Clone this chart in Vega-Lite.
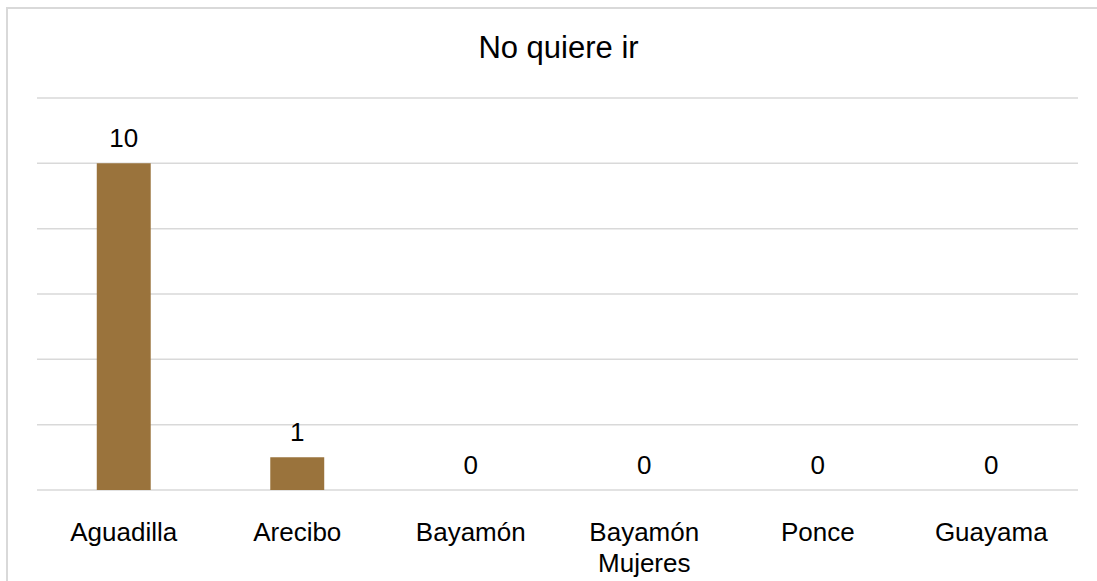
{
  "$schema": "https://vega.github.io/schema/vega-lite/v6.json",
  "width": 1095,
  "height": 580,
  "autosize": {"type": "none"},
  "padding": {"left": 7, "top": 8, "right": 0, "bottom": 0},
  "background": "white",
  "config": {
    "view": {"stroke": "#d9d9d9", "strokeWidth": 2},
    "font": "Liberation Sans"
  },
  "title": {
    "text": "No quiere ir",
    "fontSize": 31,
    "fontWeight": "normal",
    "color": "#000000",
    "font": "Liberation Sans",
    "offset": -57,
    "dx": 4
  },
  "datasets": {
    "bars": [
      {"sede": "Aguadilla", "valor": 10},
      {"sede": "Arecibo", "valor": 1},
      {"sede": "Bayamón", "valor": 0},
      {"sede": "Bayamón Mujeres", "valor": 0},
      {"sede": "Ponce", "valor": 0},
      {"sede": "Guayama", "valor": 0}
    ],
    "grid": [
      {"g": 0, "a": 0, "b": 1},
      {"g": 2, "a": 0, "b": 1},
      {"g": 4, "a": 0, "b": 1},
      {"g": 6, "a": 0, "b": 1},
      {"g": 8, "a": 0, "b": 1},
      {"g": 10, "a": 0, "b": 1},
      {"g": 12, "a": 0, "b": 1}
    ]
  },
  "layer": [
    {
      "data": {"name": "grid"},
      "mark": {"type": "rule", "color": "#d9d9d9", "strokeWidth": 1.5},
      "encoding": {
        "y": {"field": "g", "type": "quantitative", "scale": {"domain": [0, 12], "range": [482, 90]}, "axis": null},
        "x": {"field": "a", "type": "quantitative", "scale": {"domain": [0, 1], "range": [30, 1071]}, "axis": null},
        "x2": {"field": "b"}
      }
    },
    {
      "data": {"name": "bars"},
      "layer": [
        {
          "mark": {"type": "bar", "color": "#9a733c"},
          "encoding": {
            "x": {
              "field": "sede", "type": "nominal", "sort": null,
              "scale": {"range": [30, 1071], "paddingInner": 0.689, "paddingOuter": 0.3445},
              "axis": {
                "title": null, "domain": false, "ticks": false, "grid": false,
                "offset": -90, "labelPadding": 21, "labelAngle": 0,
                "labelFontSize": 26, "labelColor": "#000000", "labelFont": "Liberation Sans",
                "labelExpr": "datum.value == 'Bayamón Mujeres' ? ['Bayamón', 'Mujeres'] : datum.value",
                "labelLineHeight": 31
              }
            },
            "y": {"field": "valor", "type": "quantitative", "scale": {"domain": [0, 12], "range": [482, 90]}, "axis": null}
          }
        },
        {
          "mark": {"type": "text", "fontSize": 26, "color": "#000000", "baseline": "alphabetic", "dy": -16, "font": "Liberation Sans"},
          "encoding": {
            "x": {"field": "sede", "type": "nominal", "sort": null},
            "y": {"field": "valor", "type": "quantitative"},
            "text": {"field": "valor", "type": "quantitative"}
          }
        }
      ]
    }
  ],
  "resolve": {"scale": {"x": "independent"}}
}
